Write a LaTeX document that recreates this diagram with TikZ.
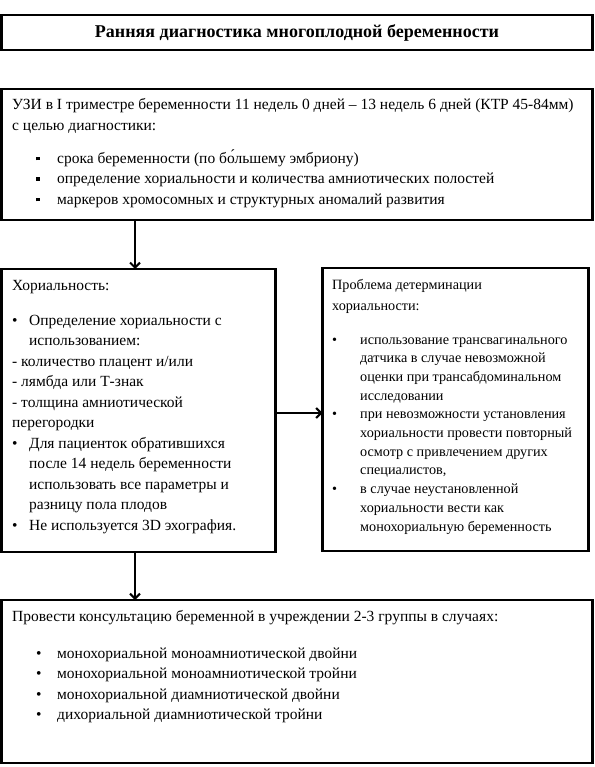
\documentclass[tikz,border=0pt]{standalone}
\usepackage{fontspec}
\setmainfont{Liberation Serif}
\usetikzlibrary{arrows.meta}
\newcommand{\sqitem}{\hspace*{24pt}\makebox[21pt][l]{\rule[3pt]{3.5pt}{3.5pt}}}
\newcommand{\dotitem}[2]{\hspace*{#1}\makebox[#2][l]{\textbullet}}
\begin{document}
\begin{tikzpicture}
[ x=1pt, y=-1pt
, box/.style={rectangle, draw, line width=2.6pt, inner sep=0pt, outer sep=0pt, anchor=north west}
, block/.style={anchor=base west, inner sep=0pt, font=\fontsize{15.5}{20.5}\selectfont}
, link/.style={line width=2pt, -{Straight Barb[length=5pt,width=10pt]}}
]
\useasboundingbox (0,0) rectangle (594,767);
% Boxes:
\node (title) [box, minimum width=591pt, minimum height=35pt, font=\bfseries\fontsize{18}{20}\selectfont] at (1.5,15) {Ранняя диагностика многоплодной беременности};
\node (usi) [box, minimum width=591pt, minimum height=131pt] at (1.5,89) {};
\node (chor) [box, minimum width=274pt, minimum height=283pt] at (1.5,269) {};
\node (prob) [box, minimum width=266pt, minimum height=283pt] at (322.5,268) {};
\node (cons) [box, minimum width=591pt, minimum height=163pt] at (1.5,600) {};
% Texts:
\node (usitext) [block] at (12,110) {\parbox[t]{580pt}{%
УЗИ в I триместре беременности 11 недель 0 дней – 13 недель 6 дней (КТР 45-84мм)\\
с целью диагностики:\\[12.5pt]
\sqitem срока беременности (по бо́льшему эмбриону)\\
\sqitem определение хориальности и количества амниотических полостей\\
\sqitem маркеров хромосомных  и структурных аномалий развития}};
\node (chortext) [block] at (12,290) {\parbox[t]{300pt}{%
Хориальность:\\[14.5pt]
\dotitem{0pt}{17pt}Определение хориальности с\\
\hspace*{17pt}использованием:\\
- количество плацент и/или\\
- лямбда или Т-знак\\
- толщина амниотической\\
перегородки\\
\dotitem{0pt}{17pt}Для пациенток обратившихся\\
\hspace*{17pt}после 14 недель беременности\\
\hspace*{17pt}использовать все параметры и\\
\hspace*{17pt}разницу пола плодов\\
\dotitem{0pt}{17pt}Не используется 3D эхография.}};
\node (probtext) [block, font=\fontsize{14.2}{18.7}\selectfont] at (332,289) {\parbox[t]{300pt}{%
Проблема детерминации\\[2.3pt]
хориальности:\\[15.3pt]
\dotitem{0pt}{28pt}использование трансвагинального\\
\hspace*{28pt}датчика в случае невозможной\\
\hspace*{28pt}оценки при трансабдоминальном\\
\hspace*{28pt}исследовании\\
\dotitem{0pt}{28pt}при невозможности установления\\
\hspace*{28pt}хориальности провести повторный\\
\hspace*{28pt}осмотр с привлечением других\\
\hspace*{28pt}специалистов,\\
\dotitem{0pt}{28pt}в случае неустановленной\\
\hspace*{28pt}хориальности вести как\\
\hspace*{28pt}монохориальную беременность}};
\node (constext) [block] at (12,621) {\parbox[t]{580pt}{%
Провести консультацию беременной в учреждении 2-3 группы в случаях:\\[16.5pt]
\dotitem{24pt}{21pt}монохориальной моноамниотической двойни\\
\dotitem{24pt}{21pt}монохориальной моноамниотической тройни\\
\dotitem{24pt}{21pt}монохориальной диамниотической двойни\\
\dotitem{24pt}{21pt}дихориальной диамниотической тройни}};
% Arrows:
\coordinate (arrx) at (135,0);
\draw [link] (usi.south -| arrx) -- (chor.north -| arrx);
\draw [link] ([yshift=-2.5pt]chor.east) -- ([yshift=-2.5pt]chor.east -| prob.west);
\draw [link] (chor.south -| arrx) -- (cons.north -| arrx);
\end{tikzpicture}
\end{document}
